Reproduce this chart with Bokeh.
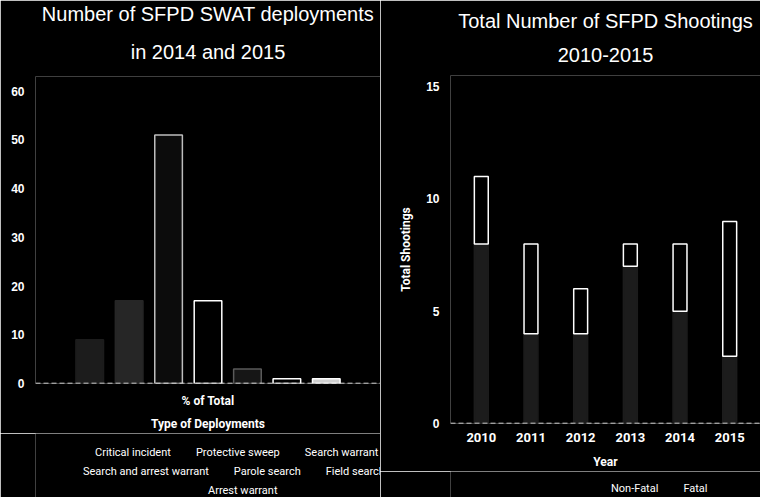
from bokeh.plotting import figure
from bokeh.models import FactorRange, Range1d, FixedTicker, Legend, LegendItem, ColumnDataSource, Title, Span
from bokeh.layouts import row, column
from bokeh.embed import file_html
from bokeh.resources import INLINE

# ---------------- data ----------------
group_label = "% of Total"
deploy_types = ["Critical incident", "Protective sweep", "Search warrant",
                "Search and arrest warrant", "Parole search", "Field search",
                "Arrest warrant"]
deploy_pct = [9, 17, 51, 17, 3, 1, 1]
deploy_ticks = [0, 10, 20, 30, 40, 50, 60]

years = ["2010", "2011", "2012", "2013", "2014", "2015"]
series_names = ["Non-Fatal", "Fatal"]
non_fatal = [8, 4, 4, 7, 5, 3]
fatal = [3, 4, 2, 1, 3, 6]
shoot_ticks = [0, 5, 10, 15]

# ---------------- styles ----------------
BG = "black"
FG = "white"
TITLE_FONT = "Liberation Sans"
LABEL_FONT = "Roboto"
fills = ["#1c1c1c", "#262626", "#0c0c0c", "black", "#161616", "black", "#d0d0d0"]
lines = ["#1c1c1c", "#262626", "#bdbdbd", "white", "#5a5a5a", "white", "white"]
shoot_fills = ["#1c1c1c", "black"]
shoot_lines = ["#1c1c1c", "white"]


def add_title(p, line1, line2):
    p.title.text = line1
    p.title.align = "center"
    p.title.text_color = FG
    p.title.text_font = TITLE_FONT
    p.title.text_font_size = "20px"
    p.title.text_font_style = "normal"
    p.title.standoff = 0
    p.add_layout(Title(text=line2, align="center", text_color=FG,
                       text_font=TITLE_FONT, text_font_size="20px",
                       text_font_style="normal", standoff=28), "above")


def style_common(p):
    p.background_fill_color = BG
    p.border_fill_color = BG
    p.outline_line_color = None
    p.xgrid.grid_line_color = None
    p.ygrid.grid_line_color = None
    for ax in (p.xaxis[0], p.yaxis[0]):
        ax.major_tick_line_color = None
        ax.minor_tick_line_color = None
        ax.axis_line_color = None
        ax.major_label_text_color = FG
        ax.major_label_text_font = TITLE_FONT
        ax.major_label_text_font_style = "bold"
        ax.major_label_text_font_size = "12px"
        ax.axis_label_text_color = FG
        ax.axis_label_text_font = LABEL_FONT
        ax.axis_label_text_font_style = "bold"
        ax.axis_label_text_font_size = "12px"
    p.add_layout(Span(location=0, dimension="width", line_color=FG,
                      line_dash="5 3", line_width=1.5))


def legend_fig(height):
    f = figure(width=380, height=height, x_range=Range1d(0, 1), y_range=Range1d(0, 1),
               x_axis_type=None, y_axis_type=None, output_backend="svg",
               toolbar_location=None, min_border=0)
    f.background_fill_color = BG
    f.border_fill_color = BG
    f.outline_line_color = None
    return f


def make_legend(items, loc):
    return Legend(items=items, orientation="horizontal", location=loc,
                  background_fill_alpha=0, border_line_color=None,
                  label_text_color=FG, label_text_font=LABEL_FONT,
                  label_text_font_size="11px", glyph_width=11, glyph_height=11,
                  label_height=12, label_standoff=5, spacing=9,
                  padding=1, margin=0)


# ---------------- left chart ----------------
factors = [(group_label, t) for t in deploy_types]
p1 = figure(frame_width=345, frame_height=307,
            x_range=FactorRange(*factors, factor_padding=0, group_padding=0,
                                range_padding=0.25),
            y_range=Range1d(0, 63),
            output_backend="svg", toolbar_location=None,
            min_border_left=35, min_border_right=0, min_border_top=75,
            min_border_bottom=50)
add_title(p1, "Number of SFPD SWAT deployments", "in 2014 and 2015")
style_common(p1)

for i, t in enumerate(deploy_types):
    src = ColumnDataSource(dict(x=[(group_label, t)], top=[deploy_pct[i]]))
    p1.vbar(x="x", top="top", width=0.7, source=src,
            fill_color=fills[i], line_color=lines[i], line_width=1.5)

p1.yaxis[0].ticker = FixedTicker(ticks=deploy_ticks)
xa = p1.xaxis[0]
xa.major_label_text_color = BG
xa.major_label_text_font_size = "1px"
xa.major_label_standoff = 0
xa.group_text_color = FG
xa.group_text_font = LABEL_FONT
xa.group_text_font_size = "12px"
xa.group_text_font_style = "bold"
xa.separator_line_color = None
xa.axis_label = "Type of Deployments"
xa.axis_label_standoff = 6

# legend rows for the left chart (swatches styled like the bars)
lf1 = legend_fig(65)
proxies1 = []
for i, t in enumerate(deploy_types):
    proxies1.append(lf1.vbar(x=[], top=[], width=0.1, fill_color=fills[i],
                             line_color=lines[i], line_width=1.5))
rows_idx = [[0, 1, 2], [3, 4, 5], [6]]
rows_loc = [(44, 39), (32, 20), (157, 1)]
for ridx, loc in zip(rows_idx, rows_loc):
    items = [LegendItem(label=deploy_types[i], renderers=[proxies1[i]]) for i in ridx]
    lf1.add_layout(make_legend(items, loc))

# ---------------- right chart ----------------
src2 = ColumnDataSource(dict(year=years, non_fatal=non_fatal, fatal=fatal))
p2 = figure(frame_width=310, frame_height=348,
            x_range=FactorRange(*years, range_padding=0.04),
            y_range=Range1d(0, 15.5),
            output_backend="svg", toolbar_location=None,
            min_border_left=70, min_border_right=0, min_border_top=75,
            min_border_bottom=48)
add_title(p2, "Total Number of SFPD Shootings", "2010-2015")
style_common(p2)
p2.vbar_stack(["non_fatal", "fatal"], x="year", width=0.28, source=src2,
              fill_color=shoot_fills, line_color=shoot_lines, line_width=1.5)
p2.yaxis[0].ticker = FixedTicker(ticks=shoot_ticks)
p2.yaxis[0].axis_label = "Total Shootings"
p2.yaxis[0].axis_label_standoff = 10
p2.xaxis[0].axis_label = "Year"
p2.xaxis[0].major_label_text_font = LABEL_FONT
p2.xaxis[0].major_label_text_font_size = "13px"
p2.xaxis[0].major_label_standoff = 3
p2.xaxis[0].axis_label_standoff = 10

lf2 = legend_fig(26)
proxies2 = [lf2.vbar(x=[], top=[], width=0.1, fill_color=shoot_fills[k],
                     line_color=shoot_lines[k], line_width=1.5) for k in range(2)]
lf2.add_layout(make_legend([LegendItem(label=series_names[k], renderers=[proxies2[k]])
                            for k in range(2)], (145, 2)))

layout = row(column(p1, lf1), column(p2, lf2))
open("out.html", "w").write(file_html(layout, INLINE))
